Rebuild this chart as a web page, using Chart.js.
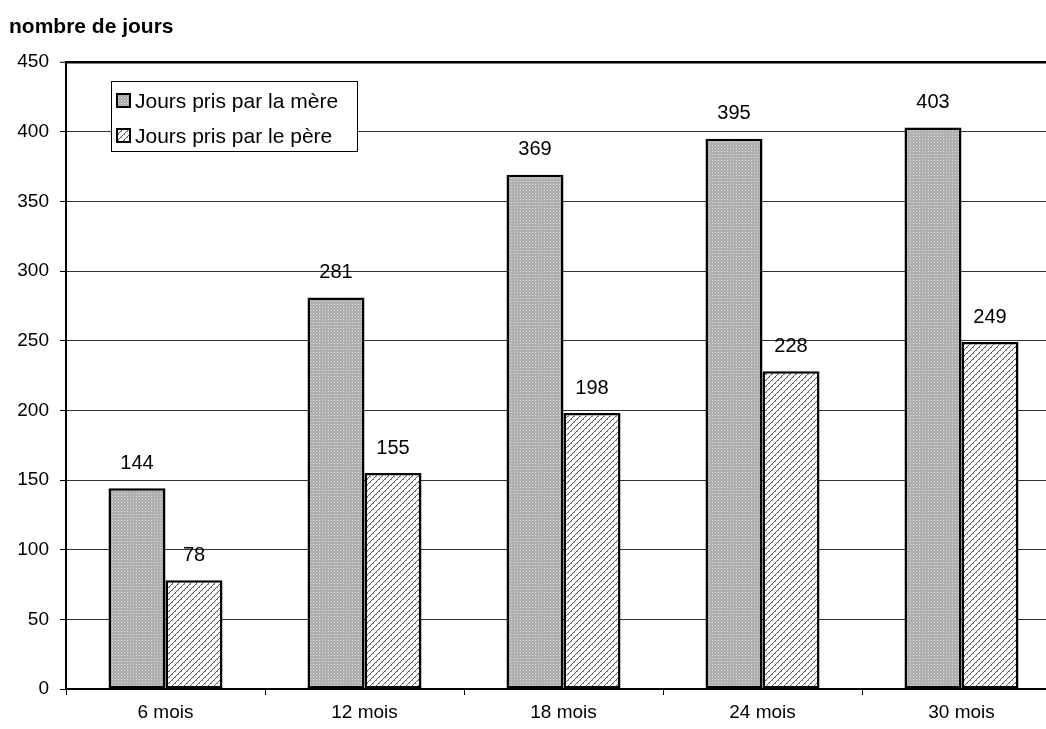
<!DOCTYPE html>
<html><head><meta charset="utf-8">
<script src="https://cdn.jsdelivr.net/npm/chart.js@4"></script>
<style>html,body{margin:0;padding:0;background:#fff;overflow:hidden;width:1046px;height:729px}#wrap{position:absolute;left:0;top:0;width:1062px;height:729px}</style>
</head><body><div id="wrap"><canvas id="c" width="1062" height="729"></canvas></div>
<script>
const categories = ['6 mois','12 mois','18 mois','24 mois','30 mois'];
const seriesNames = ['Jours pris par la mère','Jours pris par le père'];
const mere = [144, 281, 369, 395, 403];
const pere = [78, 155, 198, 228, 249];
const yTitle = 'nombre de jours';
const FONT = '"Liberation Sans", Arial, sans-serif';

function makeDots(){
  const t = document.createElement('canvas'); t.width = 3; t.height = 3;
  const g = t.getContext('2d');
  g.fillStyle = '#b0b0b0'; g.fillRect(0,0,3,3);
  g.fillStyle = '#d8d8d8'; g.fillRect(1,1,1,1);
  return g.createPattern(t,'repeat');
}
function makeHatch(){
  const t = document.createElement('canvas'); t.width = 6; t.height = 6;
  const g = t.getContext('2d');
  g.fillStyle = '#ffffff'; g.fillRect(0,0,6,6);
  g.fillStyle = '#5a5a5a';
  for(let i=0;i<6;i++){ g.fillRect(i,5-i,1,1); }
  g.fillStyle = '#9a9a9a';
  g.fillRect(1,5,1,1); g.fillRect(4,2,1,1);
  return g.createPattern(t,'repeat');
}
const ctx0 = document.getElementById('c').getContext('2d');
const patMere = makeDots();
const patPere = makeHatch();

const extras = {
  id: 'extras',
  afterDatasetsDraw(chart){
    const c = chart.ctx;
    c.save();
    c.font = '20px ' + FONT; c.fillStyle = '#000'; c.textAlign = 'center'; c.textBaseline = 'middle';
    chart.data.datasets.forEach((ds, di) => {
      chart.getDatasetMeta(di).data.forEach((bar, i) => {
        c.fillText(String(ds.data[i]), bar.x, bar.y - 25);
      });
    });
    c.font = 'bold 21px ' + FONT; c.textAlign = 'left';
    c.fillText(yTitle, 9, 27);
    const lx = 111, ly = 81, lw = 246, lh = 70;
    c.fillStyle = '#fff'; c.fillRect(lx, ly, lw, lh);
    c.strokeStyle = '#000'; c.lineWidth = 1; c.strokeRect(lx + 0.5, ly + 0.5, lw, lh);
    const pats = [patMere, patPere];
    c.font = '21px ' + FONT; c.textBaseline = 'middle';
    seriesNames.forEach((n, k) => {
      const cy = 101 + k * 35;
      c.fillStyle = pats[k]; c.fillRect(117, cy - 7, 13, 13);
      c.strokeStyle = '#000'; c.lineWidth = 2; c.strokeRect(117, cy - 7, 13, 13);
      c.fillStyle = '#000'; c.fillText(n, 135, cy + 1);
    });
    c.restore();
  }
};

new Chart(ctx0, {
  type: 'bar',
  data: {
    labels: categories,
    datasets: [
      { label: seriesNames[0], data: mere, backgroundColor: patMere, borderColor: '#000', borderWidth: 2.5, borderSkipped: false },
      { label: seriesNames[1], data: pere, backgroundColor: patPere, borderColor: '#000', borderWidth: 2.5, borderSkipped: false }
    ]
  },
  options: {
    responsive: false, animation: false,
    layout: { padding: { top: 62, left: 0, right: 1, bottom: 0 } },
    datasets: { bar: { barPercentage: 1, categoryPercentage: 0.573 } },
    plugins: { legend: { display: false }, tooltip: { enabled: false }, title: { display: false } },
    scales: {
      x: {
        offset: true,
        grid: { offset: true, drawOnChartArea: false, drawTicks: true, tickLength: 6, tickColor: '#000', tickWidth: 1 },
        border: { color: '#000', width: 2 },
        ticks: { color: '#000', font: { family: FONT, size: 19 }, padding: 6 },
        afterFit(s){ s.height = 40; }
      },
      y: {
        min: 0, max: 450,
        ticks: { stepSize: 50, color: '#000', font: { family: FONT, size: 19 }, padding: 11 },
        grid: {
          color: ctx => ctx.tick && ctx.tick.value === 450 ? '#000' : '#333',
          lineWidth: ctx => ctx.tick && ctx.tick.value === 450 ? 2.5 : 1,
          tickLength: 6, tickColor: '#000', tickWidth: 1
        },
        border: { color: '#000', width: 2 },
        afterFit(s){ s.width = 66; }
      }
    }
  },
  plugins: [extras]
});
</script></body></html>
